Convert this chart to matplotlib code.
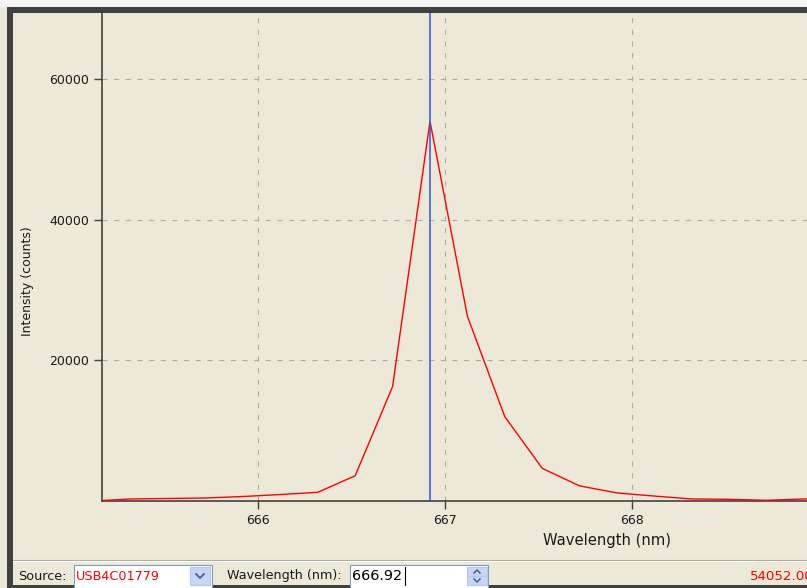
import matplotlib

matplotlib.use("Agg")
import matplotlib.pyplot as plt
from matplotlib.patches import Rectangle
from matplotlib.lines import Line2D

# spectrum around the 667 nm line, counts per detector pixel
wavelength_nm = [665.12, 665.32, 665.52, 665.72, 665.92, 666.12, 666.32,
                 666.52, 666.72, 666.92, 667.12, 667.32, 667.52, 667.72,
                 667.92, 668.12, 668.32, 668.52, 668.72, 668.92, 669.12]
intensity = [0, 290, 360, 430, 640, 920, 1240,
             3600, 16300, 54052, 26300, 12000, 4650, 2150,
             1150, 700, 290, 240, 100, 290, 300]

cursor_nm = 666.92
cursor_counts = 54052.0
source_name = "USB4C01779"

x_ticks = [666, 667, 668]
y_ticks = [20000, 40000, 60000]

W, H = 807, 588
BG = "#ECE9D8"
DARK = "#404040"

fig = plt.figure(figsize=(W / 100, H / 100), dpi=100, facecolor=BG)


def px_rect(x0, y0, x1, y1, **kw):
    """Rectangle given in pixel coords, origin at top-left."""
    r = Rectangle((x0 / W, 1 - y1 / H), (x1 - x0) / W, (y1 - y0) / H,
                  transform=fig.transFigure, **kw)
    fig.patches.append(r)
    return r


def px_line(xs, ys, **kw):
    fig.lines.append(Line2D([x / W for x in xs], [1 - y / H for y in ys],
                            transform=fig.transFigure, **kw))


def px_text(x, y, s, **kw):
    fig.text(x / W, 1 - y / H, s, **kw)


# plot area
ax = fig.add_axes([102 / W, 1 - 501 / H, 705 / W, 488 / H])
ax.set_facecolor(BG)
ax.plot(wavelength_nm, intensity, color="#FF0000", lw=1.0, zorder=3)
ax.axvline(cursor_nm, color="#3558D8", lw=1.1, zorder=4)

ax.set_xlim(665.166, 668.936)
ax.set_ylim(0, 69466)
ax.set_xticks(x_ticks)
ax.set_xticklabels([str(t) for t in x_ticks])
ax.set_yticks(y_ticks)
ax.set_yticklabels([str(t) for t in y_ticks])
ax.grid(True, color="#ABABAB", lw=0.8, ls=(0, (4.5, 6)))

for side in ("top", "right"):
    ax.spines[side].set_visible(False)
for side in ("left", "bottom"):
    ax.spines[side].set_color(DARK)
    ax.spines[side].set_linewidth(1.2)
ax.tick_params(direction="out", length=5.8, width=1.0, color=DARK,
               labelsize=9, labelcolor="#1A1A1A", pad=3.5)

ax.set_xlabel("Wavelength (nm)", fontsize=10.6, color="#1A1A1A")
ax.xaxis.set_label_coords(0.716, -0.066)
ax.set_ylabel("Intensity (counts)", fontsize=9, color="#1A1A1A")
ax.yaxis.set_label_coords(-0.096, 0.451)

# window frame
px_rect(0, 0, W, 7, facecolor="#F4F4F4", edgecolor="none", zorder=10)
px_rect(7, 7, W, 13, facecolor=DARK, edgecolor="none", zorder=10)
px_rect(7, 7, 13, 585, facecolor=DARK, edgecolor="none", zorder=10)
px_rect(7, 585, W, H, facecolor=DARK, edgecolor="none", zorder=10)

# status bar
px_line([13, W], [559.5, 559.5], color="#ACA899", lw=0.8, zorder=10)
px_line([13, W], [560.5, 560.5], color="#FFFFFF", lw=0.8, zorder=10)

status_font = dict(fontsize=9.2, va="center", zorder=12)
px_text(18, 576, "Source:", color="#1A1A1A", **status_font)

px_rect(74, 565, 212, 590, facecolor="white", edgecolor="#7F9DB9",
        lw=0.8, zorder=11)
px_text(76, 576, source_name, color="#FF0000", **status_font)
px_rect(190, 567, 210, 585, facecolor="#C6D6FA", edgecolor="#B4C8F2",
        lw=0.8, zorder=11)
px_line([196, 200, 204], [574, 578, 574], color="#4D6185", lw=1.3, zorder=12)

px_text(227, 576, "Wavelength (nm):", color="#1A1A1A", **status_font)
px_rect(350, 565, 488, 590, facecolor="white", edgecolor="#7F9DB9",
        lw=0.8, zorder=11)
px_text(352, 576, f"{cursor_nm:.2f}", color="#000000", fontsize=10.4,
        va="center", zorder=12)
px_line([405, 405], [567, 585], color="#000000", lw=0.8, zorder=12)
px_rect(467, 567, 487, 576, facecolor="#C6D6FA", edgecolor="#B4C8F2",
        lw=0.8, zorder=11)
px_rect(467, 576, 487, 585, facecolor="#C6D6FA", edgecolor="#B4C8F2",
        lw=0.8, zorder=11)
px_line([474, 477, 480], [573, 570, 573], color="#4D6185", lw=1.1, zorder=12)
px_line([474, 477, 480], [579, 582, 579], color="#4D6185", lw=1.1, zorder=12)

px_text(750, 577, f"{cursor_counts:.4f}", color="#FF0000", fontsize=9.6,
        va="center", zorder=12)

fig.savefig("out.png", dpi=100, facecolor=BG)
